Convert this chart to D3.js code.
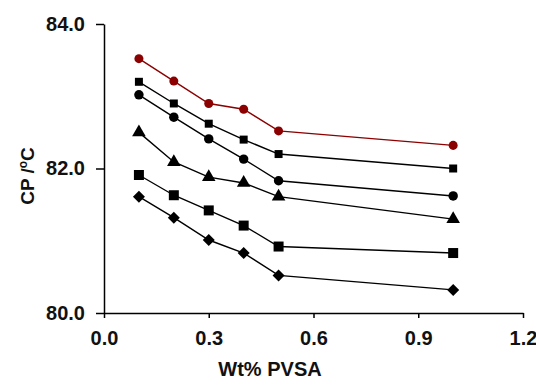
<!DOCTYPE html>
<html>
<head>
<meta charset="utf-8">
<script src="https://cdn.jsdelivr.net/npm/d3@7"></script>
<style>
  body { margin: 0; background: #fff; }
  svg text { font-family: "Liberation Sans", Arial, sans-serif; font-weight: bold; }
</style>
</head>
<body>
<svg id="chart"></svg>
<script>
// Wt% PVSA loadings
let wt = [0.1, 0.2, 0.3, 0.4, 0.5, 1.0];

// cloud point values for each series
let sRed = [83.52, 83.21, 82.90, 82.82, 82.52, 82.32];
let sSquare = [83.20, 82.90, 82.62, 82.40, 82.20, 82.00];
let sCircle = [83.02, 82.71, 82.41, 82.13, 81.83, 81.62];
let sTriangle = [82.50, 82.09, 81.88, 81.80, 81.61, 81.30];
let sBigSquare = [81.91, 81.63, 81.42, 81.21, 80.92, 80.83];
let sDiamond = [81.61, 81.32, 81.01, 80.83, 80.52, 80.32];

let xTicks = [0, 0.3, 0.6, 0.9, 1.2];
let yTicks = [80, 82, 84];

let w = 536, h = 385;
let mLeft = 104, mTop = 24, mRight = 523, mBottom = 313;

let svg = d3.select('#chart')
    .attr('width', w)
    .attr('height', h);

let x = d3.scaleLinear().domain([0, 1.2]).range([mLeft, mRight]);
let y = d3.scaleLinear().domain([80, 84]).range([mBottom, mTop]);

let xAxis = d3.axisBottom(x)
    .tickValues(xTicks)
    .tickFormat(d3.format('.1f'))
    .tickSizeInner(5)
    .tickSizeOuter(0)
    .tickPadding(13);

let yAxis = d3.axisLeft(y)
    .tickValues(yTicks)
    .tickFormat(d3.format('.1f'))
    .tickSizeInner(8)
    .tickSizeOuter(0)
    .tickPadding(11);

let $x = svg.append('g')
    .attr('transform', `translate(0, ${mBottom})`)
    .call(xAxis);

let $y = svg.append('g')
    .attr('transform', `translate(${mLeft}, 0)`)
    .call(yAxis);

[$x, $y].forEach(g => {
    g.selectAll('path, line').attr('stroke', '#000').attr('stroke-width', 1.5);
    g.selectAll('text').attr('font-size', 20).attr('fill', '#111');
});

// rot: diamonds are squares turned 45 degrees
let series = [
    { vals: sRed, color: '#8b0000', sym: d3.symbolCircle, size: 64, rot: 0 },
    { vals: sSquare, color: '#000', sym: d3.symbolSquare, size: 64, rot: 0 },
    { vals: sCircle, color: '#000', sym: d3.symbolCircle, size: 70, rot: 0 },
    { vals: sTriangle, color: '#000', sym: d3.symbolTriangle, size: 80, rot: 0 },
    { vals: sBigSquare, color: '#000', sym: d3.symbolSquare, size: 100, rot: 0 },
    { vals: sDiamond, color: '#000', sym: d3.symbolSquare, size: 72, rot: 45 }
];

let line = d3.line()
    .x((d, i) => x(wt[i]))
    .y(d => y(d));

series.forEach(s => {
    svg.append('path')
        .datum(s.vals)
        .attr('fill', 'none')
        .attr('stroke', s.color)
        .attr('stroke-width', 1.4)
        .attr('d', line);

    svg.append('g')
        .selectAll('path')
        .data(s.vals)
        .enter()
        .append('path')
        .attr('transform', (d, i) => `translate(${x(wt[i])}, ${y(d)}) rotate(${s.rot})`)
        .attr('d', d3.symbol().type(s.sym).size(s.size))
        .attr('fill', s.color);
});

svg.append('text')
    .attr('x', 270)
    .attr('y', 376)
    .attr('text-anchor', 'middle')
    .attr('font-size', 20)
    .attr('fill', '#111')
    .text('Wt% PVSA');

let yt = svg.append('text')
    .attr('transform', 'translate(34, 176) rotate(-90)')
    .attr('text-anchor', 'middle')
    .attr('font-size', 19)
    .attr('fill', '#111');
yt.append('tspan').text('CP /');
yt.append('tspan').attr('font-size', 12).attr('dy', -7).text('o');
yt.append('tspan').attr('dy', 7).text('C');
</script>
</body>
</html>
